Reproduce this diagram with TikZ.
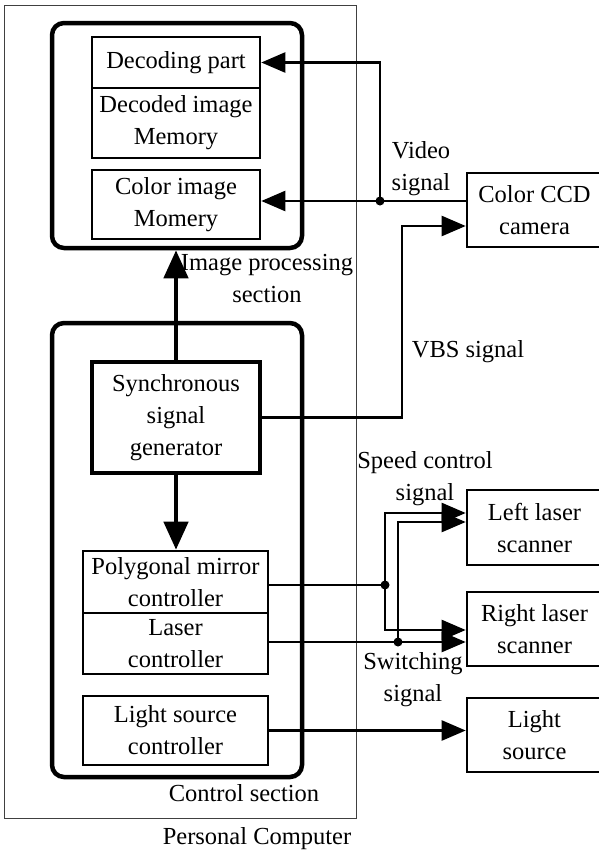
\documentclass[tikz,border=0pt]{standalone}
\usepackage{fontspec}
\setmainfont{Liberation Serif}
\usepackage{tikz}
\usetikzlibrary{arrows.meta, positioning, calc}

\begin{document}
\begin{tikzpicture}[x=1pt, y=-1pt,
		every node/.style={font=\fontsize{24.5}{32}\selectfont, align=center, inner sep=0pt},
		secbox/.style={draw, line width=4.5pt, rounded corners=12pt},
		unitbox/.style={draw, line width=2.6pt},
		sigline/.style={line width=2.4pt},
		sigarrow/.style={sigline, -{Triangle[length=24pt, width=20pt]}},
		flowarrow/.style={line width=4.5pt, -{Triangle[length=28pt, width=24pt]}}]
		\useasboundingbox (0,0) rectangle (599,854);
		
		% personal computer
		\node[draw=black!75, line width=1pt, minimum width=352pt, minimum height=813pt] (pc) at (180,411.5) {};
		\node (pclabel) at (257,839) {Personal Computer};
		
		% image processing section
		\node[secbox, minimum width=250pt, minimum height=225pt] (imgsec) at (177,135.5) {};
		\node[unitbox, minimum width=168pt, minimum height=51pt] (dec) at (176,62.5) {Decoding part};
		\node[unitbox, minimum width=168pt, minimum height=70pt] (mem) at (176,123) {Decoded image\\Memory};
		\node[unitbox, minimum width=168pt, minimum height=69pt] (cim) at (176,204.5) {Color image\\Momery};
		\node (imglabel) at (267,279) {Image processing\\section};
		
		% control section
		\node[secbox, minimum width=250pt, minimum height=454pt] (ctrl) at (177,550) {};
		\node[unitbox, line width=4.5pt, minimum width=168pt, minimum height=111pt] (sync) at (176,417.5) {Synchronous\\signal\\generator};
		\node[unitbox, minimum width=185pt, minimum height=62pt] (poly) at (175.5,582) {Polygonal mirror\\controller};
		\node[unitbox, minimum width=185pt, minimum height=61pt] (laser) at (175.5,643.5) {Laser\\controller};
		\node[unitbox, minimum width=185pt, minimum height=69pt] (light) at (175.5,730.5) {Light source\\controller};
		\node (ctrllabel) at (244,793) {Control section};
		
		% devices
		\node[unitbox, minimum width=135pt, minimum height=74pt] (cam) at (534.5,210) {Color CCD\\camera};
		\node[unitbox, minimum width=135pt, minimum height=75pt] (lls) at (534.5,527.5) {Left laser\\scanner};
		\node[unitbox, minimum width=135pt, minimum height=74pt] (rls) at (534.5,629) {Right laser\\scanner};
		\node[unitbox, minimum width=135pt, minimum height=74pt] (lsrc) at (534.5,735) {Light\\source};
		
		% signal labels
		\node (vlabel) at (421,169) {Video\\signal};
		\node (vbslabel) at (468,352) {VBS signal};
		\node (splabel) at (425,479) {Speed control\\signal};
		\node (swlabel) at (413,680) {Switching\\signal};
		
		\coordinate (vdot) at (380,201);
		\coordinate (vbs) at (402,226);
		\coordinate (pdot) at (385,585);
		\coordinate (ldot) at (398,642);
		\coordinate (sp1) at (385,513);
		\coordinate (sp2) at (398,522);
		\coordinate (sw1) at (385,630);
		
		\draw[flowarrow] (sync.north) -- (sync.north |- imgsec.south);
		\draw[flowarrow] (sync.south) -- (sync.south |- poly.north);
		
		\draw[sigarrow] (cam.west |- vdot) -- (cim.east |- vdot);
		\draw[sigarrow] (vdot) |- (dec.east);
		\draw[sigarrow] (sync.east) -| (vbs) -- (cam.west |- vbs);
		
		\draw[sigline] (poly.east |- pdot) -- (pdot);
		\draw[sigarrow] (pdot) -- (sp1) -- (lls.west |- sp1);
		\draw[sigarrow] (pdot) -- (sw1) -- (rls.west |- sw1);
		\draw[sigarrow] (laser.east |- ldot) -- (rls.west |- ldot);
		\draw[sigarrow] (ldot) -- (sp2) -- (lls.west |- sp2);
		\draw[sigarrow] (light.east) -- (lsrc.west |- light.east);
		
		\fill (vdot) circle (4.5);
		\fill (pdot) circle (4.5);
		\fill (ldot) circle (4.5);
\end{tikzpicture}
\end{document}
